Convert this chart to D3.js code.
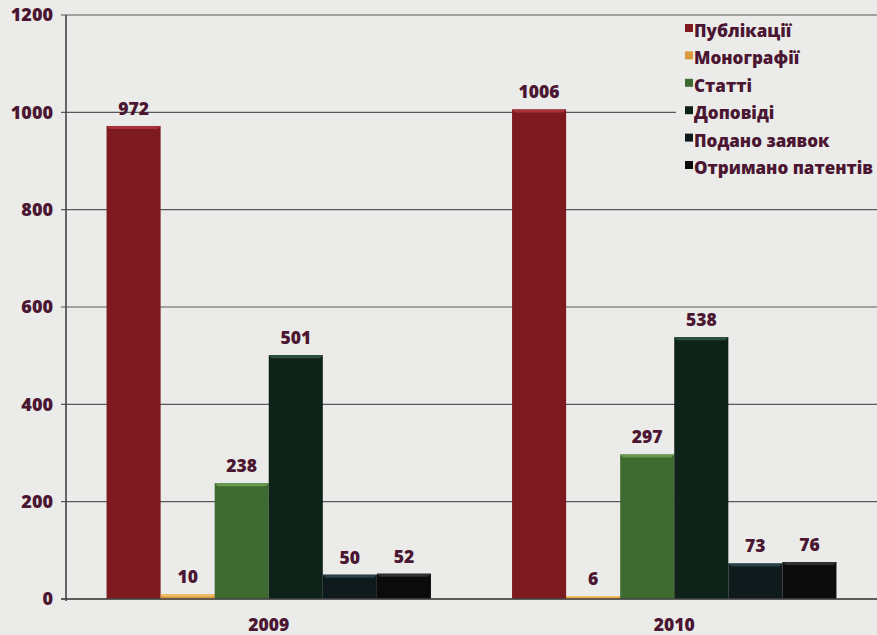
<!DOCTYPE html>
<html><head><meta charset="utf-8">
<script src="https://cdn.jsdelivr.net/npm/d3@7"></script>
<style>
html,body{margin:0;padding:0;background:#ebebe9;}
svg{display:block;}
text{font-family:"Open Sans","Noto Sans",sans-serif;font-weight:800;}
</style></head>
<body>
<svg id="c" width="877" height="635"></svg>
<script>
const years = ["2009", "2010"];
const seriesNames = ["Публікації", "Монографії", "Статті", "Доповіді", "Подано заявок", "Отримано патентів"];
const values2009 = [972, 10, 238, 501, 50, 52];
const values2010 = [1006, 6, 297, 538, 73, 76];
const yTicks = [0, 200, 400, 600, 800, 1000, 1200];
const colors = ["#7c1a1f", "#dd9a3c", "#3e6a30", "#0f2219", "#0f1a1c", "#0b0b0b"];
const highlights = ["#a8323a", "#f0c070", "#6a9a50", "#2a5040", "#2a4048", "#303030"];

const valuesByYear = {"2009": values2009, "2010": values2010};
const W = 877, H = 635;
const m = {left: 66, right: 0, top: 15, bottom: 36};
const svg = d3.select("#c");
const labelColor = "#4a1631";
const FW = 800;

const x0 = d3.scaleBand().domain(years).range([m.left, W - m.right]).paddingInner(0.2).paddingOuter(0.1);
const x1 = d3.scaleBand().domain(seriesNames).range([0, x0.bandwidth()]).padding(0);
const y = d3.scaleLinear().domain([0, 1200]).range([H - m.bottom, m.top]);

// gridlines
const grid = svg.append("g");
grid.selectAll("line").data(yTicks).join("line")
  .attr("x1", m.left - 5).attr("x2", W)
  .attr("y1", d => y(d)).attr("y2", d => y(d))
  .attr("stroke", "#5a5a5a").attr("stroke-width", 1.2);

// y axis labels
const yAxis = d3.axisLeft(y).tickValues(yTicks).tickSize(0).tickPadding(13).tickFormat(d3.format("d"));
const ya = svg.append("g").attr("transform", `translate(${m.left},0)`).call(yAxis);
ya.select(".domain").remove();
ya.selectAll("text").attr("fill", labelColor).style("font-size", "18px").style("font-weight", FW)
  .attr("font-family", '"Open Sans","Noto Sans",sans-serif');

// legend background
const lg = svg.append("g");
lg.append("rect").attr("x", 676).attr("y", 19).attr("width", 201).attr("height", 163).attr("fill", "#ebebe9");

// bars
const groups = svg.append("g").selectAll("g").data(years).join("g")
  .attr("transform", d => `translate(${x0(d)},0)`);
groups.each(function(yr) {
  const g = d3.select(this);
  const data = seriesNames.map((s, i) => ({s, i, v: valuesByYear[yr][i]}));
  g.selectAll("rect.bar").data(data).join("rect").attr("class", "bar")
    .attr("x", d => x1(d.s)).attr("width", x1.bandwidth())
    .attr("y", d => y(d.v)).attr("height", d => y(0) - y(d.v))
    .attr("fill", d => colors[d.i]);
  g.selectAll("path.bev").data(data).join("path").attr("class", "bev")
    .attr("d", d => {
      const xl = x1(d.s), xr = xl + x1.bandwidth(), yt = y(d.v);
      const b = Math.min(3, (y(0) - yt) / 2);
      return `M${xl},${yt}L${xr},${yt}L${xr - b},${yt + b}L${xl + b},${yt + b}Z`;
    })
    .attr("fill", d => highlights[d.i]);
  g.selectAll("text.val").data(data).join("text").attr("class", "val")
    .attr("x", d => x1(d.s) + x1.bandwidth() / 2)
    .attr("y", d => y(d.v) - 11)
    .attr("text-anchor", "middle").attr("fill", labelColor).style("font-size", "17.5px")
    .text(d => d.v);
});

// axes lines
svg.append("line").attr("x1", m.left).attr("x2", m.left).attr("y1", y(1200)).attr("y2", y(0) + 2)
  .attr("stroke", "#444").attr("stroke-width", 1.6);
svg.append("line").attr("x1", m.left - 5).attr("x2", W).attr("y1", y(0)).attr("y2", y(0))
  .attr("stroke", "#444").attr("stroke-width", 1.6);

// x labels
const xAxis = d3.axisBottom(x0).tickSize(0).tickPadding(20);
const xa = svg.append("g").attr("transform", `translate(0,${y(0)})`).call(xAxis);
xa.select(".domain").remove();
xa.selectAll("text").attr("fill", labelColor).style("font-size", "17.5px").style("font-weight", FW)
  .attr("font-family", '"Open Sans","Noto Sans",sans-serif');

// legend
const items = lg.selectAll("g.item").data(seriesNames).join("g").attr("class", "item")
  .attr("transform", (d, i) => `translate(685,${31 + i * 27.4})`);
items.append("rect").attr("x", 0).attr("y", -7).attr("width", 8).attr("height", 8)
  .attr("fill", (d, i) => colors[i]);
items.append("text").attr("x", 9).attr("y", 0).attr("dy", "0.35em")
  .attr("fill", labelColor).style("font-size", "17px").text(d => d);
</script>
</body></html>
